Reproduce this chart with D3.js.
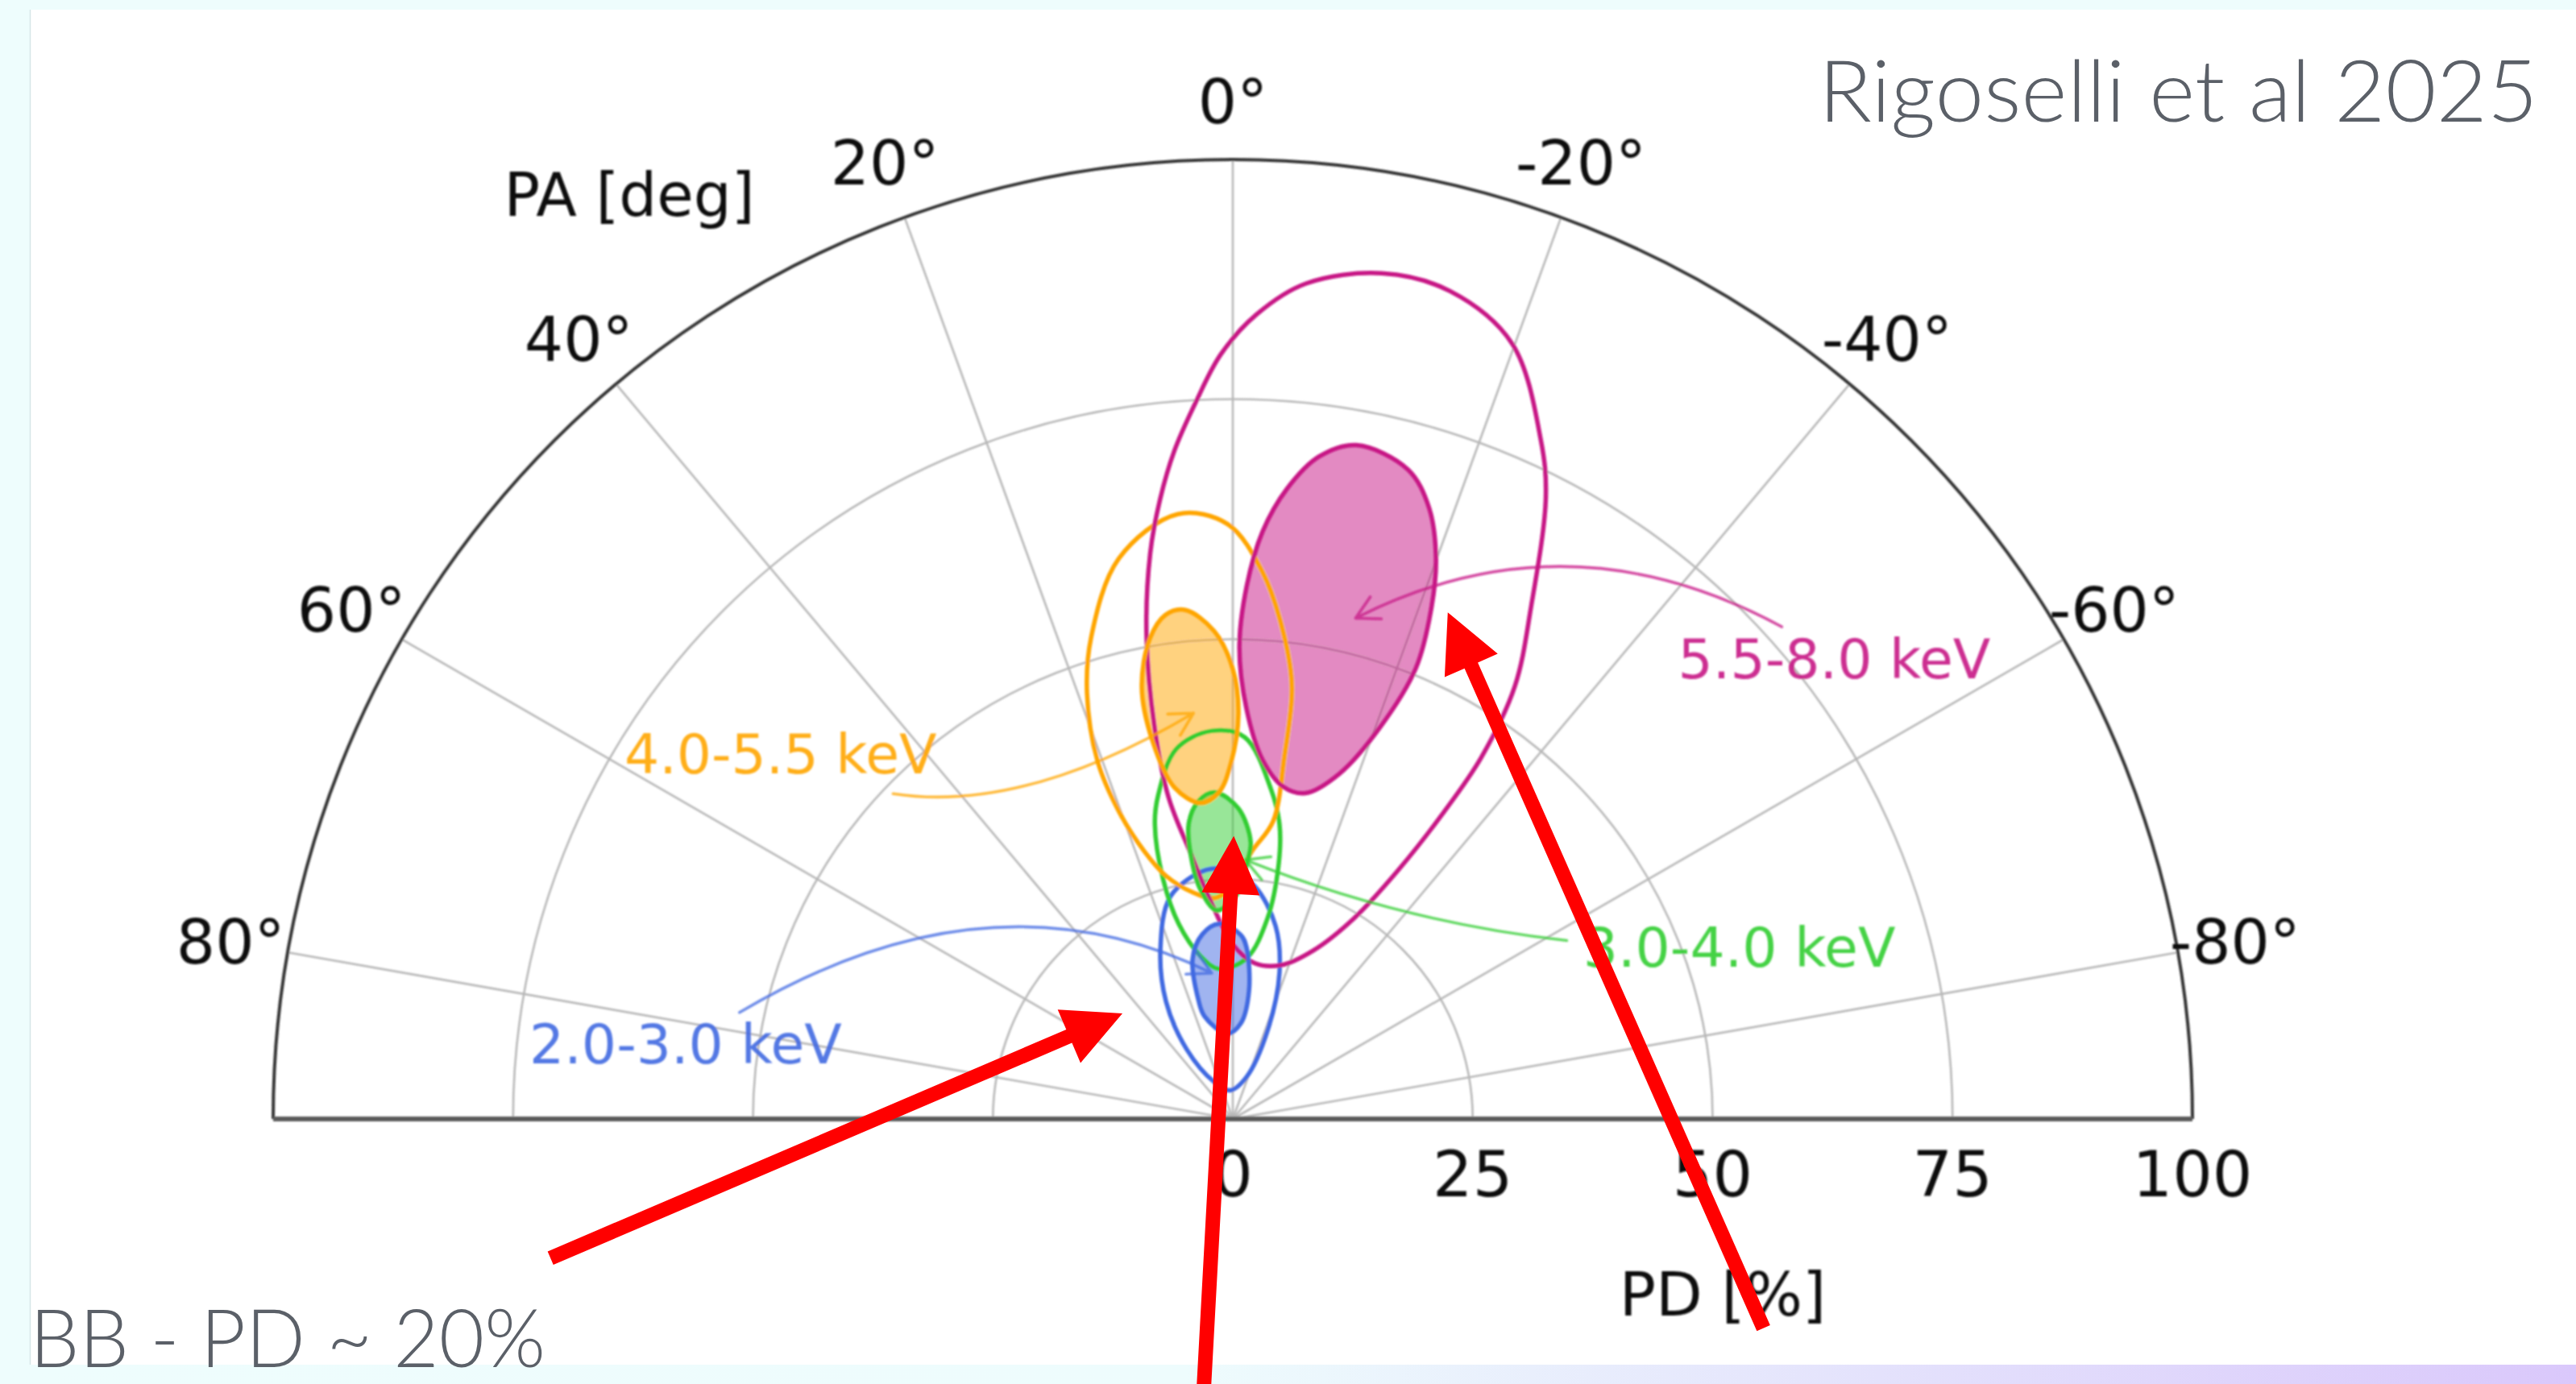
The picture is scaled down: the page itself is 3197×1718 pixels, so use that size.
<!DOCTYPE html>
<html>
<head>
<meta charset="utf-8">
<title>Polarization contours by energy band</title>
<script src="https://cdn.jsdelivr.net/npm/d3@7/dist/d3.min.js"></script>
<style>
  html, body { margin: 0; padding: 0; background: #eefdfd; }
  svg { display: block; }
</style>
</head>
<body>
<svg id="fig" width="3197" height="1718"></svg>
<script>
// ---------------------------------------------------------------- data ----
const paTicks = [80, 60, 40, 20, 0, -20, -40, -60, -80];
const pdTicks = [0, 25, 50, 75, 100];
const pdGrid = [25, 50, 75];
const bands = ["2.0-3.0 keV", "3.0-4.0 keV", "4.0-5.5 keV", "5.5-8.0 keV"];

// Confidence contours; each point is [PA (deg), PD (%)]
const inner_2_3 = [[4.0, 20.4], [-2.5, 19.2], [-4.6, 17.9], [-7.2, 13.5], [-4.8, 10.0],
  [3.8, 8.9], [15.4, 11.1], [16.1, 13.0], [14.1, 17.2], [9.4, 19.5]];
const outer_2_3 = [[6.1, 26.1], [0.6, 25.9], [-5.3, 24.4], [-12.5, 20.6], [-17.7, 16.0],
  [-21.5, 9.8], [-18.1, 4.6], [4.8, 3.0], [26.6, 4.3], [33.5, 8.7], [29.6, 14.1],
  [23.0, 19.3], [15.6, 24.1]];

const inner_3_4 = [[3.2, 34.1], [-1.0, 32.4], [-3.7, 28.9], [-3.1, 26.6], [-1.0, 23.4],
  [4.4, 21.8], [8.0, 24.1], [9.0, 26.9], [8.5, 31.1], [6.2, 33.3]];
const outer_3_4 = [[3.2, 40.5], [-1.8, 39.8], [-6.6, 34.6], [-9.0, 31.1], [-10.2, 27.0],
  [-9.8, 21.2], [-4.9, 16.8], [5.2, 15.7], [11.2, 17.3], [15.5, 21.1], [16.2, 26.1],
  [14.8, 31.8], [13.0, 34.6], [8.7, 39.0]];

const inner_4_55 = [[5.4, 53.3], [2.2, 50.9], [0.0, 46.9], [-0.8, 42.2], [0.3, 37.1],
  [2.4, 34.1], [5.8, 33.1], [10.0, 35.1], [12.0, 40.3], [11.9, 46.0], [9.8, 50.8], [7.6, 53.0]];
const outer_4_55 = [[5.2, 63.3], [0.5, 62.0], [-3.1, 57.1], [-6.0, 50.8], [-7.8, 45.4],
  [-8.1, 38.1], [-7.7, 31.3], [-4.0, 27.9], [0.0, 24.3], [4.8, 23.1], [10.1, 24.0],
  [15.4, 26.3], [18.3, 29.4], [20.3, 34.1], [20.7, 39.9], [18.9, 46.9], [16.4, 52.3], [11.5, 59.6]];

const inner_55_8 = [[-10.4, 71.4], [-15.1, 70.1], [-17.8, 66.9], [-19.9, 62.2], [-21.2, 57.3],
  [-22.1, 50.7], [-20.6, 43.6], [-17.2, 37.7], [-12.6, 34.8], [-8.7, 35.0], [-4.7, 37.6],
  [-1.9, 42.8], [-0.8, 49.2], [-1.5, 55.6], [-2.9, 61.3], [-4.9, 65.9], [-7.4, 69.6]];
const outer_55_8 = [[-10.0, 89.5], [-14.7, 89.2], [-19.8, 85.9], [-24.4, 77.7], [-26.7, 72.6],
  [-30.2, 61.8], [-33.1, 53.8], [-34.5, 45.7], [-34.5, 38.6], [-33.6, 31.1], [-31.1, 24.4],
  [-25.6, 19.5], [-17.4, 16.8], [-7.9, 16.4], [0.0, 18.2], [5.7, 22.7],
  [9.1, 28.2], [11.3, 34.2], [11.3, 41.6], [10.1, 51.3], [8.3, 59.6], [6.7, 65.0],
  [5.0, 69.9], [3.0, 74.7], [0.9, 79.7], [-1.7, 83.9], [-5.0, 87.4]];

const innerContours = [inner_2_3, inner_3_4, inner_4_55, inner_55_8];
const outerContours = [outer_2_3, outer_3_4, outer_4_55, outer_55_8];

// ---------------------------------------------------------------- layout --
const W = 3197, H = 1718;
const cx = 1530, cy = 1389, R = 1191;
const bandColors = ["#4169e1", "#32cd32", "#ffa500", "#c71585"];

// Band label placement, in PD units measured from the pole (u right, v up)
const bandLabelLayout = [
  { text: [-73.3, 5.8], start: [-51.4, 11.1], ctrl: [-25.3, 26.6], tip: [-2.2, 15.2] },
  { text: [36.5, 15.9], start: [34.8, 18.6], ctrl: [17.6, 20.5], tip: [1.3, 27.0] },
  { text: [-63.4, 36.0], start: [-35.4, 33.9], ctrl: [-21.8, 31.8], tip: [-4.1, 42.3] },
  { text: [46.4, 45.9], start: [57.2, 51.3], ctrl: [34.9, 63.4], tip: [12.8, 52.2] }
];

// Red call-out arrows, same pole-centred frame
const redArrows = [
  { tail: [-71.1, -14.5], tip: [-11.5, 11.0] },
  { tail: [-3.1, -29.5], tip: [0.1, 29.5] },
  { tail: [55.3, -21.8], tip: [22.4, 52.8] }
];

// ---------------------------------------------------------------- scales --
const r = d3.scaleLinear().domain([0, 100]).range([0, R]);
const ang = d3.scaleLinear().domain([90, -90]).range([-Math.PI / 2, Math.PI / 2]);
const px = u => cx + r(u);
const py = v => cy - r(v);

const svg = d3.select("#fig");
const defs = svg.append("defs");
defs.append("filter").attr("id", "soft")
  .attr("x", "-5%").attr("y", "-5%").attr("width", "110%").attr("height", "110%")
  .append("feGaussianBlur").attr("stdDeviation", 1.1);
const grad = defs.append("linearGradient").attr("id", "band")
  .attr("x1", "0%").attr("x2", "100%").attr("y1", "0%").attr("y2", "0%");
grad.append("stop").attr("offset", "0%").attr("stop-color", "#eefdfd");
grad.append("stop").attr("offset", "46%").attr("stop-color", "#eefcfd");
grad.append("stop").attr("offset", "100%").attr("stop-color", "#dac8fb");

// page frame
svg.append("rect").attr("x", 0).attr("y", 0).attr("width", W).attr("height", H).attr("fill", "#eefdfd");
svg.append("rect").attr("x", 37).attr("y", 12).attr("width", W - 37).attr("height", 1694 - 12).attr("fill", "#ffffff");
svg.append("line").attr("x1", 37.5).attr("x2", 37.5).attr("y1", 12).attr("y2", 1694)
  .attr("stroke", "#d6e6e8").attr("stroke-width", 1.5);
svg.append("rect").attr("x", 0).attr("y", 1694).attr("width", W).attr("height", H - 1694).attr("fill", "url(#band)");

// ---------------------------------------------------------------- chart ---
const chart = svg.append("g").attr("filter", "url(#soft)");
const plot = chart.append("g").attr("transform", `translate(${cx},${cy})`);

// radial grid arcs
const arcPath = rr => { const p = d3.path(); p.arc(0, 0, rr, Math.PI, 2 * Math.PI); return p.toString(); };
plot.selectAll(".pd-grid").data(pdGrid).join("path")
  .attr("d", d => arcPath(r(d)))
  .attr("fill", "none").attr("stroke", "#b8b8b8").attr("stroke-width", 2.6);

// angular grid spokes
const spoke = d3.lineRadial().angle(d => ang(d[0])).radius(d => r(d[1]));
plot.selectAll(".pa-grid").data(paTicks).join("path")
  .attr("d", d => spoke([[d, 0], [d, 100]]))
  .attr("fill", "none").attr("stroke", "#b8b8b8").attr("stroke-width", 2.6);

// contours: filled inner regions, then outlines
const contourLine = d3.lineRadial()
  .angle(d => ang(d[0])).radius(d => r(d[1]))
  .curve(d3.curveCatmullRomClosed.alpha(0.5));

plot.selectAll(".inner-fill").data(innerContours).join("path")
  .attr("d", contourLine)
  .attr("fill", (d, i) => bandColors[i]).attr("fill-opacity", 0.5).attr("stroke", "none");
plot.selectAll(".outer-line").data(outerContours).join("path")
  .attr("d", contourLine)
  .attr("fill", "none").attr("stroke", (d, i) => bandColors[i]).attr("stroke-width", 5.5);
plot.selectAll(".inner-line").data(innerContours).join("path")
  .attr("d", contourLine)
  .attr("fill", "none").attr("stroke", (d, i) => bandColors[i]).attr("stroke-width", 5.5);

// outer frame: polar spine and the straight edge along PA = ±90°
plot.append("path").attr("d", arcPath(r(100)))
  .attr("fill", "none").attr("stroke", "#363636").attr("stroke-width", 4);
plot.append("line").attr("x1", -r(100)).attr("x2", r(100)).attr("y1", 0).attr("y2", 0)
  .attr("stroke", "#5a5a5a").attr("stroke-width", 6);

// PA tick labels
plot.selectAll(".pa-label").data(paTicks).join("text")
  .attr("x", d => Math.sin(ang(d)) * (r(100) + 72))
  .attr("y", d => -Math.cos(ang(d)) * (r(100) + 72))
  .attr("text-anchor", "middle").attr("dominant-baseline", "central")
  .attr("font-family", "DejaVu Sans").attr("font-size", 76).attr("fill", "#111")
  .text(d => `${d}°`);

// PD tick labels
plot.selectAll(".pd-label").data(pdTicks).join("text")
  .attr("x", d => r(d)).attr("y", 96)
  .attr("text-anchor", "middle")
  .attr("font-family", "DejaVu Sans").attr("font-size", 78).attr("fill", "#111")
  .text(d => d);

// axis titles
chart.append("text").attr("x", 781).attr("y", 268).attr("text-anchor", "middle")
  .attr("font-family", "DejaVu Sans").attr("font-size", 74).attr("fill", "#111")
  .text("PA [deg]");
chart.append("text").attr("x", 2138).attr("y", 1633).attr("text-anchor", "middle")
  .attr("font-family", "DejaVu Sans").attr("font-size", 75).attr("fill", "#111")
  .text("PD [%]");

// band labels with curved pointers
const annot = chart.append("g");
bandLabelLayout.forEach((a, i) => {
  const col = bandColors[i];
  annot.append("text").attr("x", px(a.text[0])).attr("y", py(a.text[1]))
    .attr("font-family", "DejaVu Sans").attr("font-size", 68)
    .attr("fill", col).attr("fill-opacity", 0.9).text(bands[i]);
  const s = [px(a.start[0]), py(a.start[1])];
  const c = [px(a.ctrl[0]), py(a.ctrl[1])];
  const t = [px(a.tip[0]), py(a.tip[1])];
  const p = d3.path();
  p.moveTo(s[0], s[1]);
  p.quadraticCurveTo(c[0], c[1], t[0], t[1]);
  // open arrow head along the end tangent
  const back = Math.atan2(c[1] - t[1], c[0] - t[0]);
  const hl = 32, spread = 0.5;
  [back + spread, back - spread].forEach(th => {
    p.moveTo(t[0] + hl * Math.cos(th), t[1] + hl * Math.sin(th));
    p.lineTo(t[0], t[1]);
  });
  annot.append("path").attr("d", p.toString())
    .attr("fill", "none").attr("stroke", col).attr("stroke-opacity", 0.75)
    .attr("stroke-width", 3.6).attr("stroke-linecap", "round").attr("stroke-linejoin", "round");
});

// ---------------------------------------------------------------- overlay --
const arrowShape = (a, shaft = 18, headW = 72, headL = 72) => {
  const T = [px(a.tail[0]), py(a.tail[1])], P = [px(a.tip[0]), py(a.tip[1])];
  const L = Math.hypot(P[0] - T[0], P[1] - T[1]);
  const d = [(P[0] - T[0]) / L, (P[1] - T[1]) / L], n = [-d[1], d[0]];
  const B = [P[0] - d[0] * headL, P[1] - d[1] * headL];
  const pt = (o, k) => [o[0] + n[0] * k, o[1] + n[1] * k];
  return [pt(T, shaft / 2), pt(B, shaft / 2), pt(B, headW / 2), P,
          pt(B, -headW / 2), pt(B, -shaft / 2), pt(T, -shaft / 2)];
};
svg.append("g").selectAll("path").data(redArrows).join("path")
  .attr("d", a => d3.line()(arrowShape(a)) + "Z")
  .attr("fill", "#ff0000");

// slide captions
svg.append("text").attr("x", 2257).attr("y", 151)
  .attr("font-family", "Lato, 'Open Sans', sans-serif").attr("font-weight", 300)
  .attr("font-size", 106).attr("fill", "#5b6068")
  .attr("textLength", 893).attr("lengthAdjust", "spacingAndGlyphs")
  .text("Rigoselli et al 2025");
svg.append("text").attr("x", 37).attr("y", 1697)
  .attr("font-family", "Lato, 'Open Sans', sans-serif").attr("font-weight", 300)
  .attr("font-size", 100).attr("fill", "#5b6068")
  .attr("textLength", 640).attr("lengthAdjust", "spacingAndGlyphs")
  .text("BB - PD ~ 20%");
</script>
</body>
</html>
